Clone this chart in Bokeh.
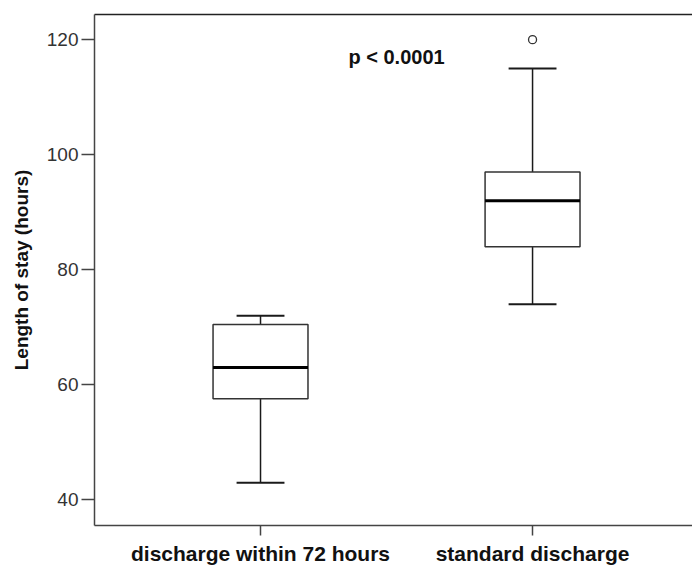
from bokeh.plotting import figure
from bokeh.models import Range1d, FixedTicker, LinearAxis, Label, ColumnDataSource
from bokeh.embed import file_html
from bokeh.resources import INLINE

# ---- data ----
categories = ["discharge within 72 hours", "standard discharge"]
positions = [1, 2]
lower_whisker = [43, 74]
q1 = [57.6, 84]
median = [63, 92]
q3 = [70.5, 97]
upper_whisker = [72, 115]
outlier_pos = [2]
outlier_val = [120]
y_ticks = [40, 60, 80, 100, 120]
p_text = "p < 0.0001"

FONT = "Liberation Sans"
box_w = 0.349
cap_w = 0.176

p = figure(width=692, height=567, output_backend="svg", toolbar_location=None,
           x_range=Range1d(0.3897, 2.588), y_range=Range1d(35.56, 124.37),
           min_border_left=94, min_border_right=0, min_border_top=14, min_border_bottom=39)
p.outline_line_color = None
p.grid.visible = False
p.background_fill_color = "white"
p.border_fill_color = "white"

src = ColumnDataSource(dict(
    x=positions, lw=lower_whisker, q1=q1, med=median, q3=q3, uw=upper_whisker,
    bx0=[x - box_w / 2 for x in positions], bx1=[x + box_w / 2 for x in positions],
    cx0=[x - cap_w / 2 for x in positions], cx1=[x + cap_w / 2 for x in positions],
))

lc = "#1a1a1a"
# whisker stems
p.segment(x0="x", y0="q3", x1="x", y1="uw", source=src, line_color=lc, line_width=1.5)
p.segment(x0="x", y0="q1", x1="x", y1="lw", source=src, line_color=lc, line_width=1.5)
# caps
p.segment(x0="cx0", y0="uw", x1="cx1", y1="uw", source=src, line_color=lc, line_width=2)
p.segment(x0="cx0", y0="lw", x1="cx1", y1="lw", source=src, line_color=lc, line_width=2)
# boxes
p.vbar(x="x", width=box_w, bottom="q1", top="q3", source=src,
       fill_color="white", line_color="#333333", line_width=1.5)
# medians
p.segment(x0="bx0", y0="med", x1="bx1", y1="med", source=src, line_color="black", line_width=3)
# outliers
p.scatter(x=outlier_pos, y=outlier_val, marker="circle", size=8,
          fill_color="white", line_color="#333333", line_width=1.3)

# axes
xa = p.xaxis[0]
xa.ticker = FixedTicker(ticks=positions)
xa.major_label_overrides = {pos: c for pos, c in zip(positions, categories)}
xa.major_label_text_font = FONT
xa.major_label_text_font_style = "bold"
xa.major_label_text_font_size = "21px"
xa.major_label_text_color = "#111111"
xa.major_label_standoff = 6
xa.major_tick_out = 10
xa.major_tick_in = 0
xa.minor_tick_line_color = None
xa.axis_line_color = "#444444"
xa.axis_line_width = 1.5
xa.major_tick_line_color = "#444444"
xa.major_tick_line_width = 1.5

ya = p.yaxis[0]
ya.ticker = FixedTicker(ticks=y_ticks)
ya.major_label_text_font = FONT
ya.major_label_text_font_size = "19px"
ya.major_label_text_color = "#333333"
ya.major_label_standoff = 3
ya.major_tick_out = 13
ya.major_tick_in = 0
ya.minor_tick_line_color = None
ya.axis_line_color = "#444444"
ya.axis_line_width = 1.5
ya.major_tick_line_color = "#444444"
ya.major_tick_line_width = 1.5
ya.axis_label = "Length of stay (hours)"
ya.axis_label_text_font = FONT
ya.axis_label_text_font_style = "bold"
ya.axis_label_text_font_size = "19px"
ya.axis_label_text_color = "#111111"
ya.axis_label_standoff = 12

# top frame line
top = LinearAxis(ticker=FixedTicker(ticks=[]), major_label_text_font_size="0px",
                 axis_line_color="#222222", axis_line_width=1.5,
                 major_tick_line_color=None, minor_tick_line_color=None)
p.add_layout(top, "above")

p.add_layout(Label(x=1.5, y=116.9, text=p_text, text_align="center", text_baseline="middle",
                   text_font=FONT, text_font_style="bold", text_font_size="20px",
                   text_color="#111111"))

open("out.html", "w").write(file_html(p, INLINE))
